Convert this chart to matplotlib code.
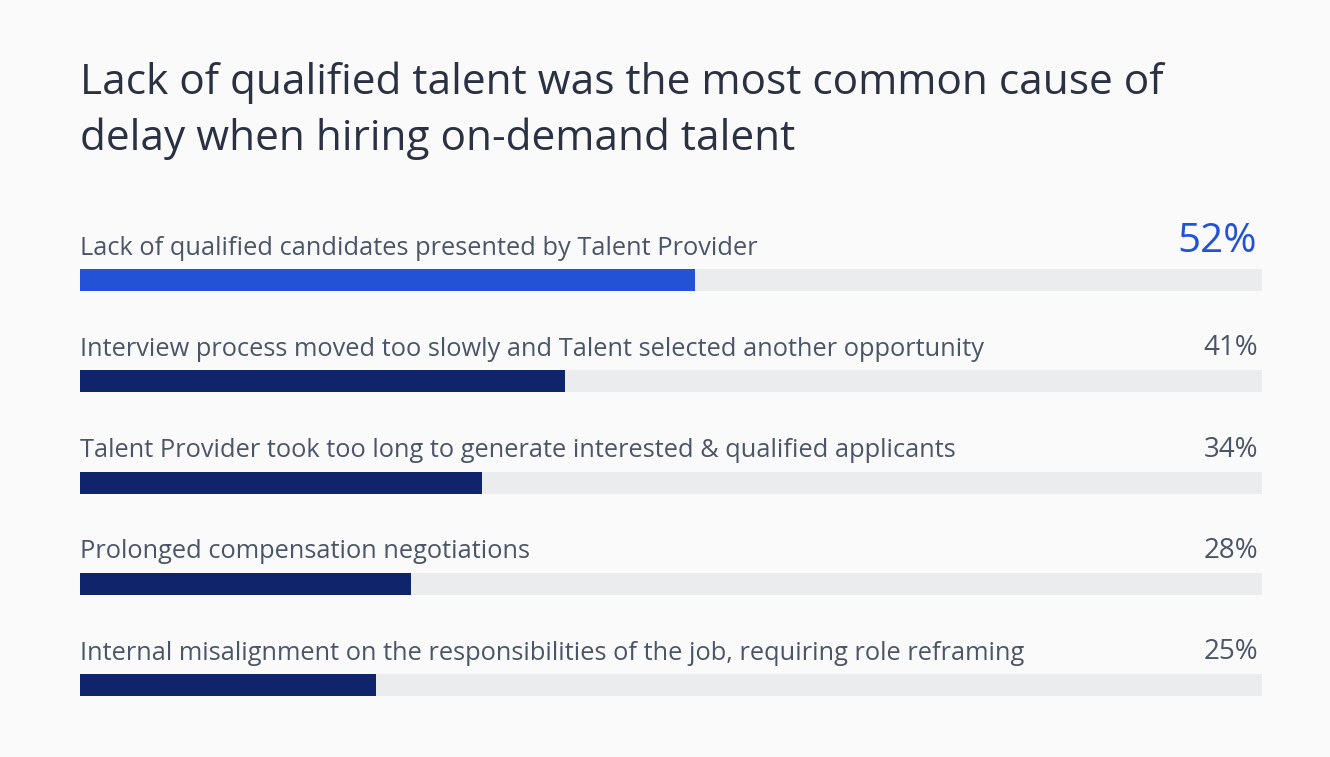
import matplotlib.pyplot as plt
import numpy as np

# === DATA ===
causes = [
    "Lack of qualified candidates presented by Talent Provider",
    "Interview process moved too slowly and Talent selected another opportunity",
    "Talent Provider took too long to generate interested & qualified applicants",
    "Prolonged compensation negotiations",
    "Internal misalignment on the responsibilities of the job, requiring role reframing",
]
shares = [52, 41, 34, 28, 25]
title = "Lack of qualified talent was the most common cause of\ndelay when hiring on-demand talent"

# === STYLE ===
bg = "#fafafb"
track_color = "#ebecee"
highlight = "#2352d6"
navy = "#10246b"
label_color = "#4b5568"
title_color = "#2a3142"
plt.rcParams['font.family'] = ['Open Sans', 'DejaVu Sans']

W, H = 1330, 757
fig = plt.figure(figsize=(W / 100, H / 100), dpi=100, facecolor=bg)

# axes spanning the bar track: x 80..1262 px, rows ~101 px apart
row_px = 101.3
top_px = 280 - 0.8 * row_px
bot_px = 280 + 4.6 * row_px
ax = fig.add_axes([80 / W, 1 - bot_px / H, (1262 - 80) / W, (bot_px - top_px) / H])
ax.set_facecolor(bg)
ax.set_xlim(0, 100)
ax.set_ylim(4.6, -0.8)
ax.axis('off')

y = np.arange(len(causes))
bar_h = 22 / row_px
colors = [highlight] + [navy] * (len(causes) - 1)
ax.barh(y, [100] * len(causes), height=bar_h, color=track_color, left=0)
ax.barh(y, shares, height=bar_h, color=colors, left=0)

for i, (c, s) in enumerate(zip(causes, shares)):
    ax.text(0, i - 32 / row_px, c, fontsize=18.3, color=label_color, ha='left', va='center')
    if i == 0:
        ax.text(99.6, i - 38 / row_px, f"{s}%", fontsize=29, color=highlight, ha='right', va='center')
    else:
        ax.text(99.7, i - 33 / row_px, f"{s}%", fontsize=20, color=label_color, ha='right', va='center')

fig.text(80 / W, 1 - 111 / H, title, fontsize=30.5, color=title_color, ha='left', va='center',
         linespacing=1.42)

fig.savefig("out.png", dpi=100, facecolor=bg)
